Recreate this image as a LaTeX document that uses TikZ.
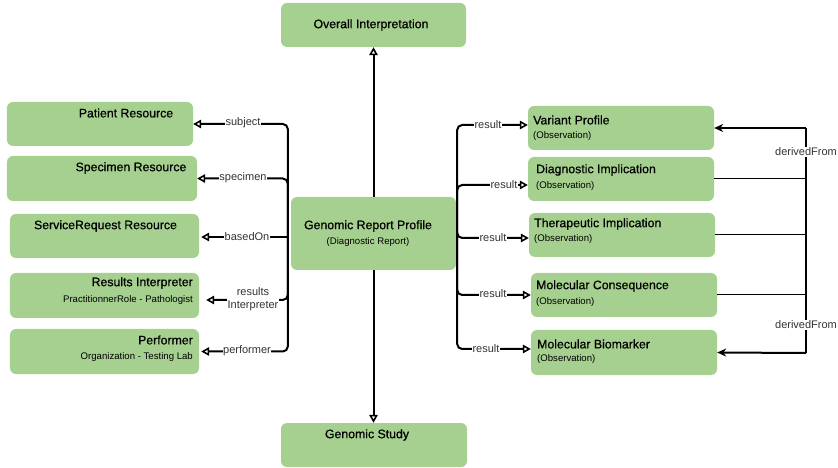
\documentclass[tikz,border=0pt]{standalone}
\usepackage{fontspec}
\setmainfont{Liberation Sans}
\newfontfamily\ttlfont{Liberation Sans}[FakeBold=0.6]
\usetikzlibrary{arrows.meta}
\definecolor{boxgreen}{RGB}{166,208,143}
\begin{document}
\begin{tikzpicture}[x=1bp,y=-1bp,
  box/.style={fill=boxgreen, rounded corners=6bp, inner sep=0pt},
  ttl/.style={inner sep=0pt, font=\ttlfont\fontsize{12.3bp}{14bp}\selectfont, text=black},
  sub/.style={inner sep=0pt, font=\fontsize{9.6bp}{11bp}\selectfont, text=black},
  lbl/.style={fill=white, inner sep=0.6bp, font=\fontsize{11bp}{12.5bp}\selectfont, text=black!80, align=center},
  edge/.style={line width=2bp, rounded corners=5bp},
  oarrow/.style={-{Triangle[open,length=8bp,width=8.5bp,line width=1.6bp]}},
  farrow/.style={-{Stealth[length=9bp,width=8bp]}},
  thinline/.style={line width=1bp}
]
\useasboundingbox (0,0) rectangle (838,468);

% boxes
\node[box, minimum width=185bp, minimum height=44bp] (ov)  at (373.5,25) {};
\node[box, minimum width=186bp, minimum height=44bp] (gs)  at (374,445) {};
\node[box, minimum width=165bp, minimum height=73bp] (grp) at (373.5,233.5) {};
\node[box, minimum width=186bp, minimum height=44bp] (pat) at (100,124) {};
\node[box, minimum width=190bp, minimum height=45bp] (spe) at (102,178.5) {};
\node[box, minimum width=189bp, minimum height=44bp] (sr)  at (104.5,236) {};
\node[box, minimum width=189bp, minimum height=45bp] (ri)  at (104.5,295.5) {};
\node[box, minimum width=189bp, minimum height=45bp] (per) at (104.5,351.5) {};
\node[box, minimum width=186bp, minimum height=44bp] (vp)  at (621,128) {};
\node[box, minimum width=186bp, minimum height=44bp] (di)  at (621,179) {};
\node[box, minimum width=186bp, minimum height=44bp] (ti)  at (622,235) {};
\node[box, minimum width=186bp, minimum height=44bp] (mc)  at (624,295) {};
\node[box, minimum width=186bp, minimum height=45bp] (mb)  at (624,352.5) {};

% texts
\node[ttl] (tov) at (371,25) {Overall Interpretation};
\node[ttl] (tgs) at (367,435) {Genomic Study};
\node[ttl] (tgrp) at (368,226) {Genomic Report Profile};
\node[sub] (sgrp) at (368,242) {(Diagnostic Report)};
\node[ttl] (tpat) at (126,113) {Patient Resource};
\node[ttl] (tspe) at (131,168) {Specimen Resource};
\node[ttl] (tsr) at (105.5,226) {ServiceRequest Resource};
\node[ttl, anchor=east] (tri) at (193,283) {Results Interpreter};
\node[sub, anchor=east] (sri) at (193,300) {PractitionnerRole - Pathologist};
\node[ttl, anchor=east] (tper) at (193,340) {Performer};
\node[sub, anchor=east] (sper) at (193,357) {Organization - Testing Lab};
\node[ttl, anchor=west] (tvp) at (533,120) {Variant Profile};
\node[sub, anchor=west] (svp) at (533,136) {(Observation)};
\node[ttl, anchor=west] (tdi) at (536,170) {Diagnostic Implication};
\node[sub, anchor=west] (sdi) at (536,186) {(Observation)};
\node[ttl, anchor=west] (tti) at (534,224) {Therapeutic Implication};
\node[sub, anchor=west] (sti) at (534,239) {(Observation)};
\node[ttl, anchor=west] (tmc) at (536,286) {Molecular Consequence};
\node[sub, anchor=west] (smc) at (536,302) {(Observation)};
\node[ttl, anchor=west] (tmb) at (537,344) {Molecular Biomarker};
\node[sub, anchor=west] (smb) at (537,359) {(Observation)};

% vertical connectors
\draw[edge,oarrow] (grp.north) -- (ov.south);
\draw[edge,oarrow] (grp.south) -- (grp.south |- gs.north);

% left connectors
\coordinate (lt) at ([xshift=-3bp]grp.west);
\draw[edge,oarrow] (lt) |- (pat.east);
\draw[edge,oarrow] (lt) |- (spe.east);
\draw[edge,oarrow,shorten >=2bp] ([yshift=-1bp]lt |- sr.east) -- ([yshift=-1bp]sr.east);
\draw[edge,oarrow,shorten >=7bp] (lt) |- ([yshift=-4.5bp]ri.east);
\draw[edge,oarrow,shorten >=2bp] (lt) |- (per.east);

\node[lbl] (lsub) at (243,123) {subject};
\node[lbl] (lspe) at (243,178) {specimen};
\node[lbl] (lbas) at (247,237) {basedOn};
\node[lbl] (lri) at (253,299) {results\\Interpreter};
\node[lbl] (lper) at (247,351) {performer};

% right connectors
\coordinate (rt) at ([xshift=1bp]grp.east);
\draw[edge,oarrow] (rt) |- ([yshift=3bp]vp.west);
\draw[edge,oarrow] (rt) |- ([yshift=-6bp]di.west);
\draw[edge,oarrow] (rt) |- ([yshift=-3bp]ti.west);
\draw[edge,oarrow] (rt) |- (mc.west);
\draw[edge,oarrow] (rt) |- ([yshift=3.5bp]mb.west);

\node[lbl] (r1) at (488,125) {result};
\node[lbl] (r2) at (504,185) {result};
\node[lbl] (r3) at (493,238) {result};
\node[lbl] (r4) at (493,294) {result};
\node[lbl] (r5) at (486,349) {result};

% derivedFrom bus
\coordinate (dtop) at (806,128);
\coordinate (dbot) at (806,353);
\draw[line width=2bp] (dtop) -- (dbot);
\draw[thinline] (di.east) -- (di.east -| dtop);
\draw[thinline] (ti.east) -- (ti.east -| dtop);
\draw[thinline] (mc.east) -- (mc.east -| dtop);
\draw[line width=2bp,farrow] (dtop) -- (vp.east);
\draw[line width=2bp,farrow] (dbot) -- (mb.east);
\node[lbl] (d1) at (806,152) {derivedFrom};
\node[lbl] (d2) at (806,325) {derivedFrom};
\end{tikzpicture}
\end{document}
